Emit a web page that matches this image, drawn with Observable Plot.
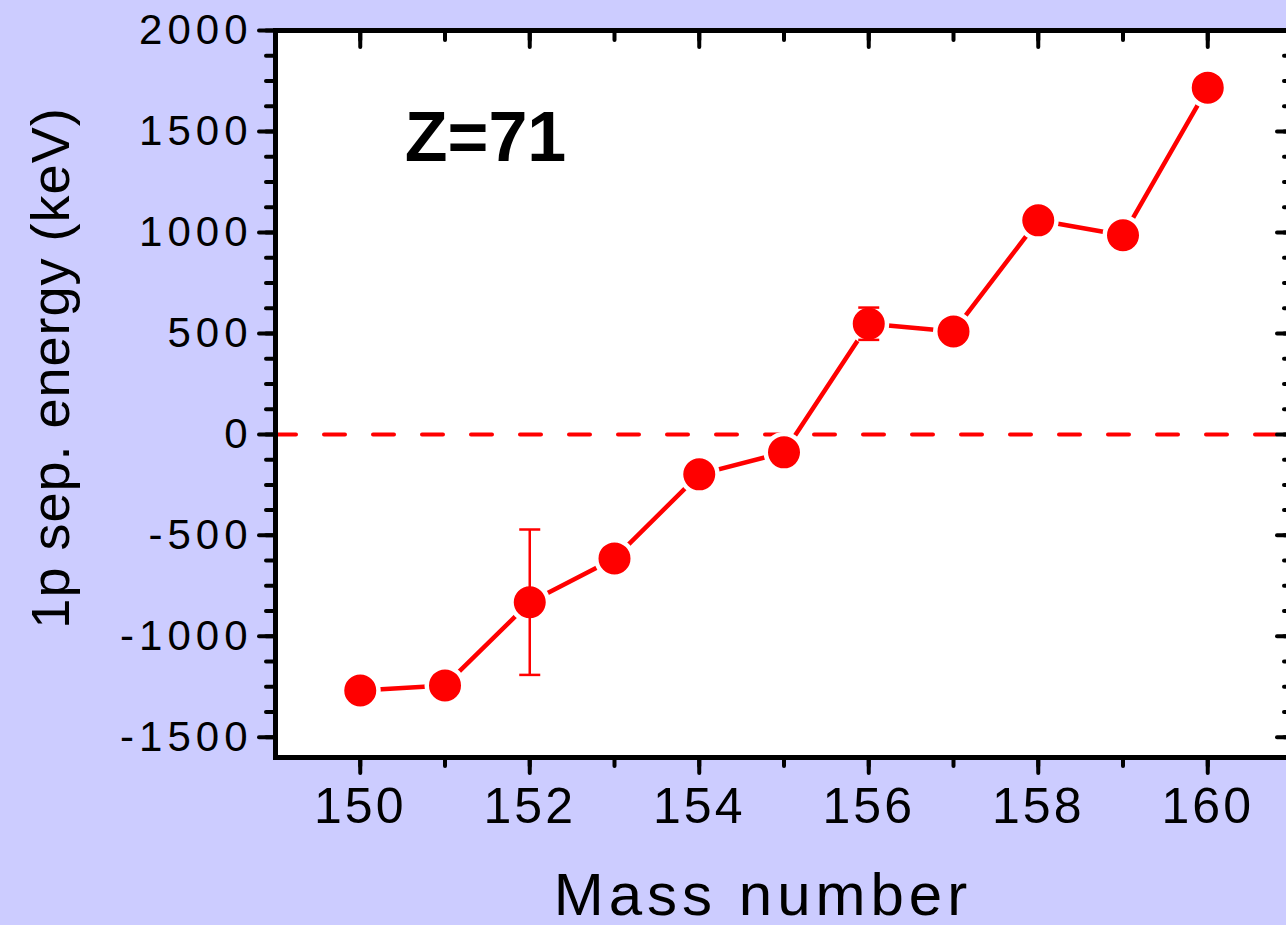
<!DOCTYPE html>
<html>
<head>
<meta charset="utf-8">
<script src="https://cdn.jsdelivr.net/npm/d3@7"></script>
<script src="https://cdn.jsdelivr.net/npm/@observablehq/plot@0.6"></script>
<style>
  html, body { margin: 0; padding: 0; background: #CCCCFF; overflow: hidden; }
  #chart svg { display: block; max-width: none !important; font-family: "Liberation Sans", Arial, sans-serif; }
  #chart [aria-label="y-axis tick label"] text { letter-spacing: 5px; }
  #chart [aria-label="x-axis tick label"] text { letter-spacing: 3px; }
  #chart .title-x text { letter-spacing: 5px; }
  #chart .title-y text { letter-spacing: 1px; }
</style>
</head>
<body>
<div id="chart"></div>
<script>
// One-proton separation energies of the Z=71 (lutetium) isotopes
const massNumber = [150, 151, 152, 153, 154, 155, 156, 157, 158, 159, 160];
const sepEnergy = [-1268, -1243, -831, -614, -198, -89, 548, 510, 1060, 986, 1717];

// Isotopes with a visible uncertainty, and its half-width (keV)
const errMass = [152, 156];
const errHalf = [360, 80];

const yMajor = [-1500, -1000, -500, 0, 500, 1000, 1500, 2000];
const xMajor = [150, 152, 154, 156, 158, 160];

const points = massNumber.map((m, i) => ({m, e: sepEnergy[i]}));
const errors = errMass.map((m, i) => {
  const e = sepEnergy[massNumber.indexOf(m)];
  return {m, lo: e - errHalf[i], hi: e + errHalf[i]};
});

const red = "#FF0000";
const yMinor = d3.range(-1500, 2001, 125);
const xMinor = d3.range(150, 161, 1);
const plain = d => String(d);

// horizontal bar used as the error-bar cap
const capSymbol = {
  draw(context, size) {
    const w = Math.sqrt(size / Math.PI);
    context.moveTo(-w, 0);
    context.lineTo(w, 0);
  }
};

const tickStyle = {stroke: "black", strokeWidth: 4, strokeLinecap: "round", label: null};

const chart = Plot.plot({
  width: 1300,
  height: 925,
  marginLeft: 275,
  marginRight: 8,
  marginTop: 30,
  marginBottom: 168,
  style: {background: "transparent", fontFamily: "Liberation Sans, Arial, sans-serif", color: "black", maxWidth: "none"},
  x: {domain: [149, 161], label: null},
  y: {domain: [-1600, 2000], label: null},
  marks: [
    Plot.frame({fill: "white", stroke: null}),
    Plot.ruleY([0], {stroke: red, strokeWidth: 4, strokeDasharray: "21,28", strokeLinecap: "round"}),
    Plot.line(points, {x: "m", y: "e", stroke: red, strokeWidth: 4.5, strokeLinecap: "round"}),
    Plot.dot(points, {x: "m", y: "e", r: 18.25, fill: red, stroke: "white", strokeWidth: 4.5}),
    Plot.ruleX(errors, {x: "m", y1: "lo", y2: "hi", stroke: red, strokeWidth: 2.5}),
    Plot.dot(errors, {x: "m", y: "lo", r: 10.5, symbol: capSymbol, stroke: red, strokeWidth: 2.5, fill: "none"}),
    Plot.dot(errors, {x: "m", y: "hi", r: 10.5, symbol: capSymbol, stroke: red, strokeWidth: 2.5, fill: "none"}),

    // left axis: outward ticks with labels
    Plot.axisY(yMinor, {...tickStyle, anchor: "left", tickSize: 9, fill: "none"}),
    Plot.axisY(yMajor, {...tickStyle, anchor: "left", tickSize: 16, tickPadding: 7, fill: "black", fontSize: 42, tickFormat: plain}),
    // right axis: inward ticks only
    Plot.axisY(yMinor, {...tickStyle, anchor: "right", tickSize: -9, fill: "none"}),
    Plot.axisY(yMajor, {...tickStyle, anchor: "right", tickSize: -16, fill: "none"}),
    // bottom axis: outward ticks with labels
    Plot.axisX(xMinor, {...tickStyle, anchor: "bottom", tickSize: 9, fill: "none"}),
    Plot.axisX(xMajor, {...tickStyle, anchor: "bottom", tickSize: 16, tickPadding: 14, fill: "black", fontSize: 50, tickFormat: plain}),
    // top axis: inward ticks only
    Plot.axisX(xMinor, {...tickStyle, anchor: "top", tickSize: -9, fill: "none"}),
    Plot.axisX(xMajor, {...tickStyle, anchor: "top", tickSize: -16, fill: "none"}),

    Plot.frame({stroke: "black", strokeWidth: 5}),

    Plot.text(["Z=71"], {frameAnchor: "top-left", dx: 210, dy: 108, textAnchor: "middle", lineAnchor: "middle", fontSize: 70, fontWeight: "bold", fill: "black"}),
    Plot.text(["Mass number"], {frameAnchor: "bottom", dx: -21, dy: 138, textAnchor: "middle", lineAnchor: "middle", fontSize: 60, fill: "black", className: "title-x"}),
    Plot.text(["1p sep. energy (keV)"], {frameAnchor: "left", dx: -224, dy: -26, rotate: -90, textAnchor: "middle", lineAnchor: "middle", fontSize: 54, fill: "black", className: "title-y"})
  ]
});

document.getElementById("chart").appendChild(chart);
</script>
</body>
</html>
